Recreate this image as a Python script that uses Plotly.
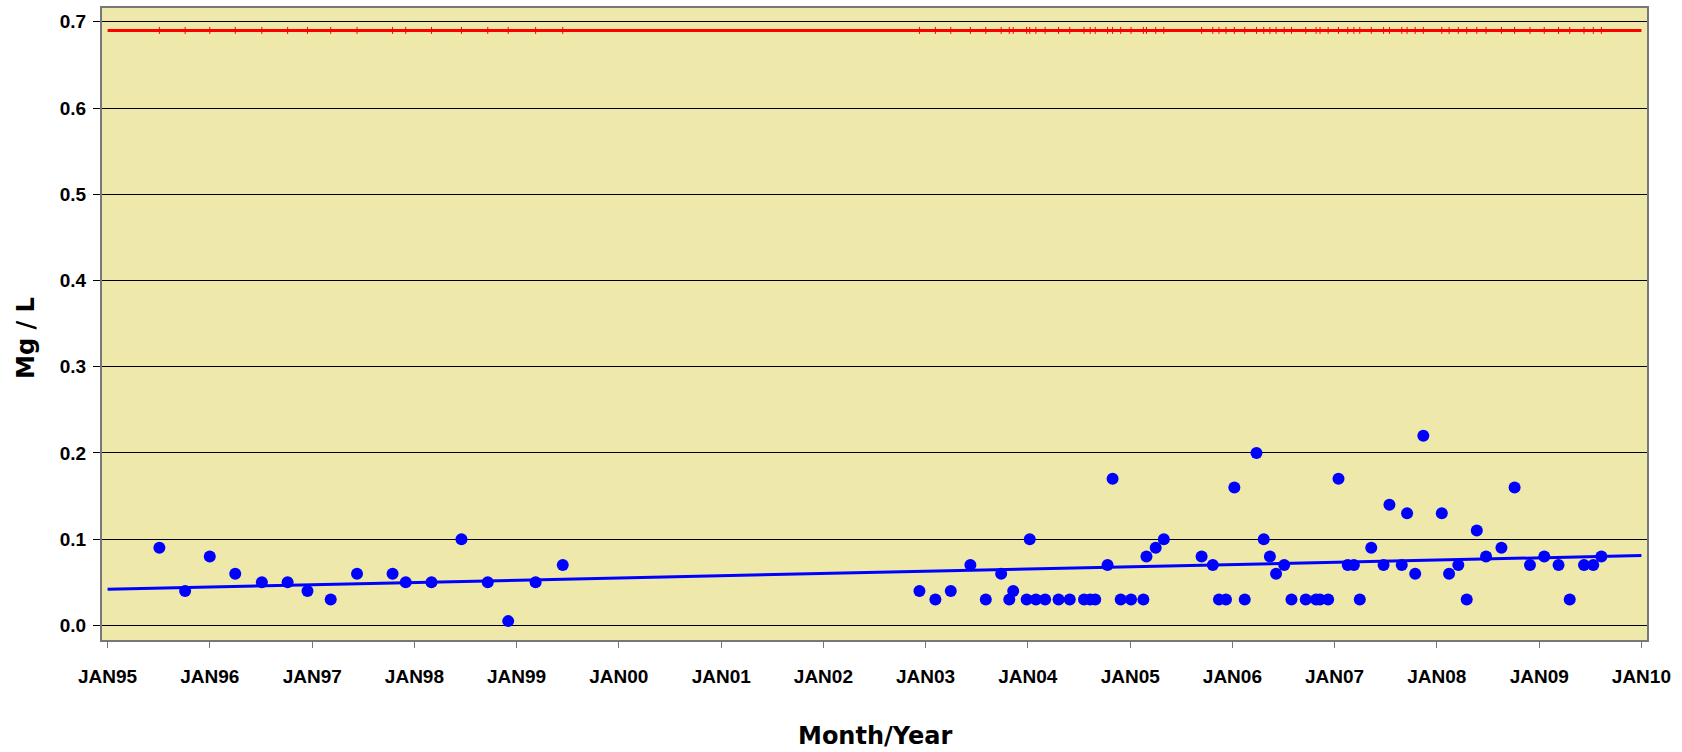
import plotly.graph_objects as go

# ---- data ----
sample_dates = [
    "1995-07-05", "1995-10-05", "1996-01-01", "1996-04-01", "1996-07-05", "1996-10-05",
    "1996-12-15", "1997-03-08", "1997-06-10", "1997-10-15", "1997-12-01", "1998-03-03",
    "1998-06-18", "1998-09-20", "1998-12-02", "1999-03-10", "1999-06-15",
    "2002-12-10", "2003-02-05", "2003-04-01", "2003-06-10", "2003-08-04", "2003-09-28",
    "2003-10-27", "2003-11-10", "2003-12-28", "2004-01-08", "2004-01-30", "2004-03-03",
    "2004-04-20", "2004-05-30", "2004-07-20", "2004-08-11", "2004-08-29", "2004-10-12",
    "2004-10-30", "2004-11-28", "2005-01-04", "2005-02-17", "2005-02-28", "2005-04-02",
    "2005-05-01", "2005-09-13", "2005-10-23", "2005-11-14", "2005-12-09", "2006-01-08",
    "2006-02-14", "2006-03-28", "2006-04-23", "2006-05-15", "2006-06-06", "2006-07-05",
    "2006-07-31", "2006-09-20", "2006-10-27", "2006-11-10", "2006-12-09", "2007-01-15",
    "2007-02-17", "2007-03-11", "2007-04-01", "2007-05-12", "2007-06-25", "2007-07-16",
    "2007-08-29", "2007-09-17", "2007-10-16", "2007-11-14", "2008-01-19", "2008-02-14",
    "2008-03-18", "2008-04-17", "2008-05-23", "2008-06-25", "2008-08-19", "2008-10-05",
    "2008-11-29", "2009-01-19", "2009-03-11", "2009-04-20", "2009-06-10", "2009-07-13",
    "2009-08-11",
]
sample_values = [
    0.09, 0.04, 0.08, 0.06, 0.05, 0.05,
    0.04, 0.03, 0.06, 0.06, 0.05, 0.05,
    0.10, 0.05, 0.005, 0.05, 0.07,
    0.04, 0.03, 0.04, 0.07, 0.03, 0.06,
    0.03, 0.04, 0.03, 0.10, 0.03, 0.03,
    0.03, 0.03, 0.03, 0.03, 0.03, 0.07,
    0.17, 0.03, 0.03, 0.03, 0.08, 0.09,
    0.10, 0.08, 0.07, 0.03, 0.03, 0.16,
    0.03, 0.20, 0.10, 0.08, 0.06, 0.07,
    0.03, 0.03, 0.03, 0.03, 0.03, 0.17,
    0.07, 0.07, 0.03, 0.09, 0.07, 0.14,
    0.07, 0.13, 0.06, 0.22, 0.13, 0.06,
    0.07, 0.03, 0.11, 0.08, 0.09, 0.16,
    0.07, 0.08, 0.07, 0.03, 0.07, 0.07,
    0.08,
]

trend_dates = ["1995-01-01", "2010-01-01"]
trend_values = [0.042, 0.081]

standard_dates = ["1995-01-01", "2010-01-01"]
standard_values = [0.69, 0.69]
standard_level = 0.69

tick_dates = [f"{y}-01-01" for y in range(1995, 2011)]
tick_labels = ["JAN95", "JAN96", "JAN97", "JAN98", "JAN99", "JAN00", "JAN01", "JAN02",
               "JAN03", "JAN04", "JAN05", "JAN06", "JAN07", "JAN08", "JAN09", "JAN10"]
y_ticks = [0.0, 0.1, 0.2, 0.3, 0.4, 0.5, 0.6, 0.7]
y_labels = ["0.0", "0.1", "0.2", "0.3", "0.4", "0.5", "0.6", "0.7"]

# ---- figure ----
fig = go.Figure()
fig.add_trace(go.Scatter(x=standard_dates, y=standard_values, mode="lines",
                         line=dict(color="#FF0000", width=3), hoverinfo="skip"))
fig.add_trace(go.Scatter(x=sample_dates, y=[standard_level] * len(sample_dates), mode="markers",
                         marker=dict(symbol="line-ns", size=5, line=dict(color="#FF0000", width=1)),
                         hoverinfo="skip"))
fig.add_trace(go.Scatter(x=trend_dates, y=trend_values, mode="lines",
                         line=dict(color="#0000FF", width=3), hoverinfo="skip"))
fig.add_trace(go.Scatter(x=sample_dates, y=sample_values, mode="markers",
                         marker=dict(color="#0000FF", size=12, line=dict(width=0))))

tick_font = dict(family="Liberation Sans, Arial, sans-serif", size=19, color="black", weight="bold")
title_font = dict(family="DejaVu Sans, sans-serif", size=24, color="black", weight="bold")

fig.update_layout(
    width=1682, height=752,
    margin=dict(l=102, r=35, t=6, b=112),
    paper_bgcolor="white",
    plot_bgcolor="#EEE8AA",
    showlegend=False,
    xaxis=dict(
        range=["1994-12-12", "2010-01-21"],
        tickmode="array", tickvals=tick_dates, ticktext=tick_labels,
        ticks="outside", ticklen=6, tickwidth=1, tickcolor="#777",
        tickfont=tick_font, ticklabelstandoff=12,
        showgrid=False, zeroline=False,
        showline=True, linecolor="#777", linewidth=2, mirror=True,
    ),
    yaxis=dict(
        range=[-0.0169, 0.716],
        tickmode="array", tickvals=y_ticks, ticktext=y_labels,
        ticks="outside", ticklen=7, tickwidth=1, tickcolor="black",
        tickfont=tick_font, ticklabelstandoff=3,
        showgrid=True, gridcolor="black", gridwidth=1, zeroline=False,
        showline=True, linecolor="#777", linewidth=2, mirror=True,
    ),
    annotations=[
        dict(text="Month/Year", xref="paper", yref="paper", x=0.5, y=0, yshift=-96,
             xanchor="center", yanchor="middle", showarrow=False, font=title_font),
        dict(text="Mg / L", xref="paper", yref="paper", x=0, xshift=-76, y=0.5, yshift=-14,
             xanchor="center", yanchor="middle", textangle=-90, showarrow=False, font=title_font),
    ],
)

fig.write_html("out.html", config={"displayModeBar": False},
               post_script="document.body.style.margin='0';")
